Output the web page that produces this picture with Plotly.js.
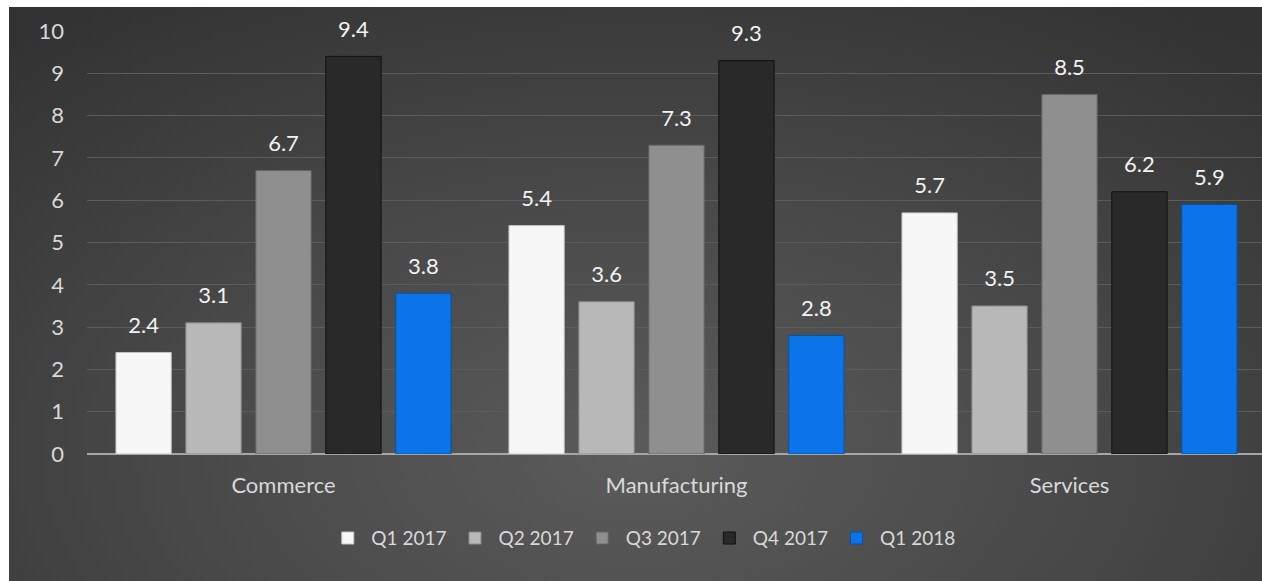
<!DOCTYPE html>
<html>
<head>
<meta charset="utf-8">
<script src="https://cdn.plot.ly/plotly-3.0.1.min.js"></script>
<style>
html,body{margin:0;padding:0;background:#ffffff;width:1262px;height:581px;overflow:hidden;}
#wrap{position:absolute;left:9px;top:7px;width:1253px;height:574px;overflow:hidden;
background:radial-gradient(ellipse 75% 95% at 50% 78%, #5b5b5b 0%, #484848 50%, #333333 100%);}
#chart{position:absolute;left:0;top:0;width:1260px;height:574px;}
</style>
</head>
<body>
<div id="wrap"><div id="chart"></div></div>
<script>
const categories = ["Commerce", "Manufacturing", "Services"];
const seriesNames = ["Q1 2017", "Q2 2017", "Q3 2017", "Q4 2017", "Q1 2018"];
const q1_2017 = [2.4, 5.4, 5.7];
const q2_2017 = [3.1, 3.6, 3.5];
const q3_2017 = [6.7, 7.3, 8.5];
const q4_2017 = [9.4, 9.3, 6.2];
const q1_2018 = [3.8, 2.8, 5.9];
const seriesValues = [q1_2017, q2_2017, q3_2017, q4_2017, q1_2018];
const colors = ["#f7f7f7", "#b8b8b8", "#8f8f8f", "#292929", "#0a74e8"];
const lineColors = ["#c4c4c4", "#8a8a8a", "#666666", "#111111", "#0552a8"];

const FONT = "Lato, 'Open Sans', sans-serif";

const barTraces = seriesValues.map((vals, i) => ({
  type: "bar",
  name: seriesNames[i],
  x: categories,
  y: vals,
  marker: {color: colors[i], line: {color: lineColors[i], width: 1}},
  hoverinfo: "x+y+name"
}));

const labelTraces = seriesValues.map((vals, i) => ({
  type: "scatter",
  mode: "markers+text",
  name: seriesNames[i] + " label",
  x: categories,
  y: vals,
  text: vals.map(v => v.toFixed(1)),
  textposition: "top center",
  textfont: {color: "#f2f2f2", size: 22, family: FONT},
  marker: {size: 21, color: "rgba(0,0,0,0)"},
  cliponaxis: false,
  showlegend: false,
  hoverinfo: "skip"
}));

const layout = {
  width: 1260, height: 574,
  paper_bgcolor: "rgba(0,0,0,0)",
  plot_bgcolor: "rgba(0,0,0,0)",
  margin: {l: 78, r: 3, t: 24, b: 127},
  barmode: "group",
  bargap: 0.11,
  bargroupgap: 0.21,
  scattermode: "group",
  scattergap: 0.11,
  font: {family: FONT, color: "#d9d9d9", size: 20},
  xaxis: {
    showgrid: false, showline: false, ticks: "",
    tickfont: {size: 22, color: "#d9d9d9", family: FONT},
    ticklabelstandoff: 16,
    automargin: false
  },
  yaxis: {
    range: [0, 10], dtick: 1, tick0: 0,
    showgrid: true, gridcolor: "#5c5c5c", gridwidth: 1,
    zeroline: true, zerolinecolor: "#a6a6a6", zerolinewidth: 2,
    showline: false, ticks: "", ticklen: 0,
    tickfont: {size: 22, color: "#d9d9d9", family: FONT},
    ticklabelstandoff: 22,
    automargin: false
  },
  legend: {
    orientation: "h", x: 0.471, xanchor: "center", y: -0.199, yanchor: "middle",
    font: {size: 19, color: "#d9d9d9", family: FONT},
    itemwidth: 37, bgcolor: "rgba(0,0,0,0)"
  },
  showlegend: true
};

Plotly.newPlot("chart", barTraces.concat(labelTraces), layout, {displayModeBar: false, staticPlot: true});
</script>
</body>
</html>
